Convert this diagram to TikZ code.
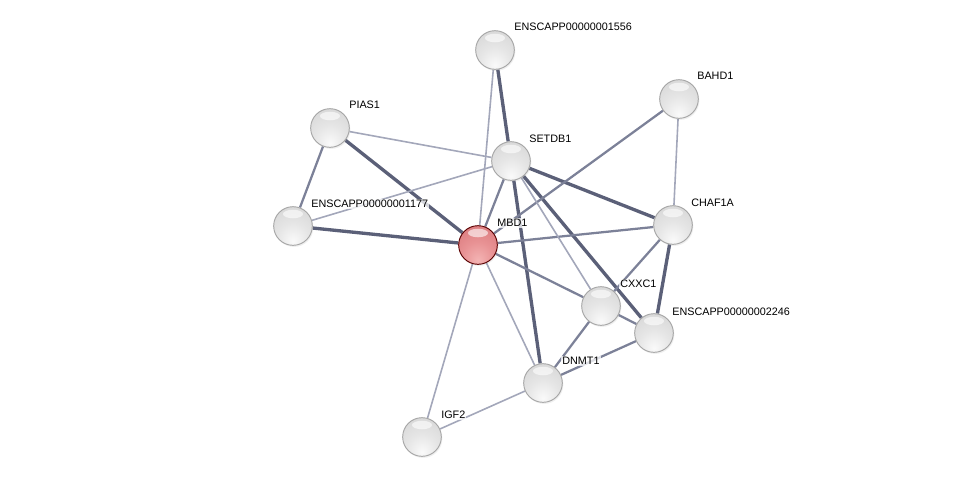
\documentclass[tikz,border=0pt]{standalone}
\usepackage{fontspec}
\setmainfont{Liberation Sans}
\usepackage{tikz}
\usetikzlibrary{backgrounds,shadows}

\definecolor{edgedark}{HTML}{5B6078}
\definecolor{edgemid}{HTML}{7C8198}
\definecolor{edgelight}{HTML}{A3A7BA}

% glossy sphere: pale glow below, darker rim above
\pgfdeclareradialshading{greysphere}{\pgfpoint{0bp}{-20bp}}{%
  color(0bp)=(gray!4); color(20bp)=(gray!20); color(45bp)=(gray!34);
  color(60bp)=(gray!50); color(70bp)=(gray!62); color(100bp)=(gray!62)}
\definecolor{rs0}{HTML}{F4B4B4}
\definecolor{rs1}{HTML}{E89294}
\definecolor{rs2}{HTML}{D8767A}
\definecolor{rs3}{HTML}{C25A60}
\definecolor{rs4}{HTML}{A84048}
\pgfdeclareradialshading{redsphere}{\pgfpoint{0bp}{-20bp}}{%
  color(0bp)=(rs0); color(20bp)=(rs1); color(45bp)=(rs2);
  color(60bp)=(rs3); color(70bp)=(rs4); color(100bp)=(rs4)}

\begin{document}
\begin{tikzpicture}[
    x=0.75pt, y=-0.75pt,
    prot/.style={circle,minimum size=29pt,inner sep=0pt,shading=greysphere,
                 draw=gray!70,line width=0.7pt,
                 drop shadow={opacity=0.12,shadow xshift=0.8pt,shadow yshift=-1.2pt},
                 path picture={\fill[white,fill opacity=0.6]
                   ([yshift=9pt]path picture bounding box.center)
                   ellipse (7.5pt and 3.2pt);}},
    query/.style={prot,shading=redsphere,draw=red!35!black},
    lbl/.style={anchor=west,inner sep=0.8pt,font=\fontsize{8.1}{9}\selectfont,
                fill=white,fill opacity=0.75,text opacity=1},
    strong/.style={edgedark,line width=2.5pt},
    medium/.style={edgemid,line width=1.7pt},
    weak/.style={edgelight,line width=1.2pt},
  ]
  \useasboundingbox (0,0) rectangle (976,483);

  % --- proteins, placed at explicit pixel coordinates ---
  \node[prot]  (e1556)  at (495,50)  {};
  \node[prot]  (bahd1)  at (679,99)  {};
  \node[prot]  (pias1)  at (330,128) {};
  \node[prot]  (setdb1) at (511,161) {};
  \node[prot]  (e1177)  at (293,226) {};
  \node[query] (mbd1)   at (478,245) {};
  \node[prot]  (chaf1a) at (673,225) {};
  \node[prot]  (cxxc1)  at (601,306) {};
  \node[prot]  (e2246)  at (654,333) {};
  \node[prot]  (dnmt1)  at (543,383) {};
  \node[prot]  (igf2)   at (422,437) {};

  % --- edges, kept behind the spheres ---
  \begin{scope}[on background layer]
    % strongest evidence
    \foreach \a/\b in {e1556/setdb1,pias1/mbd1,e1177/mbd1,setdb1/chaf1a,
                       setdb1/dnmt1,setdb1/e2246,chaf1a/e2246}
      { \draw[strong] (\a) -- (\b); }
    % medium evidence
    \foreach \a/\b in {mbd1/chaf1a,mbd1/cxxc1,cxxc1/dnmt1,dnmt1/e2246,
                       pias1/e1177,setdb1/mbd1,chaf1a/cxxc1,cxxc1/e2246,bahd1/mbd1}
      { \draw[medium] (\a) -- (\b); }
    % weak evidence
    \foreach \a/\b in {e1556/mbd1,pias1/setdb1,e1177/setdb1,setdb1/cxxc1,
                       bahd1/chaf1a,mbd1/dnmt1,mbd1/igf2,dnmt1/igf2}
      { \draw[weak] (\a) -- (\b); }
  \end{scope}

  % --- labels, upper right of each sphere ---
  \node[lbl] (l-e1556)  at (513,27)  {ENSCAPP00000001556};
  \node[lbl] (l-bahd1)  at (696,76)  {BAHD1};
  \node[lbl] (l-pias1)  at (348,105) {PIAS1};
  \node[lbl] (l-setdb1) at (528,139) {SETDB1};
  \node[lbl] (l-e1177)  at (310,204) {ENSCAPP00000001177};
  \node[lbl] (l-mbd1)   at (496,223) {MBD1};
  \node[lbl] (l-chaf1a) at (690,203) {CHAF1A};
  \node[lbl] (l-cxxc1)  at (619,284) {CXXC1};
  \node[lbl] (l-e2246)  at (671,312) {ENSCAPP00000002246};
  \node[lbl] (l-dnmt1)  at (561,361) {DNMT1};
  \node[lbl] (l-igf2)   at (440,415) {IGF2};

\end{tikzpicture}
\end{document}
